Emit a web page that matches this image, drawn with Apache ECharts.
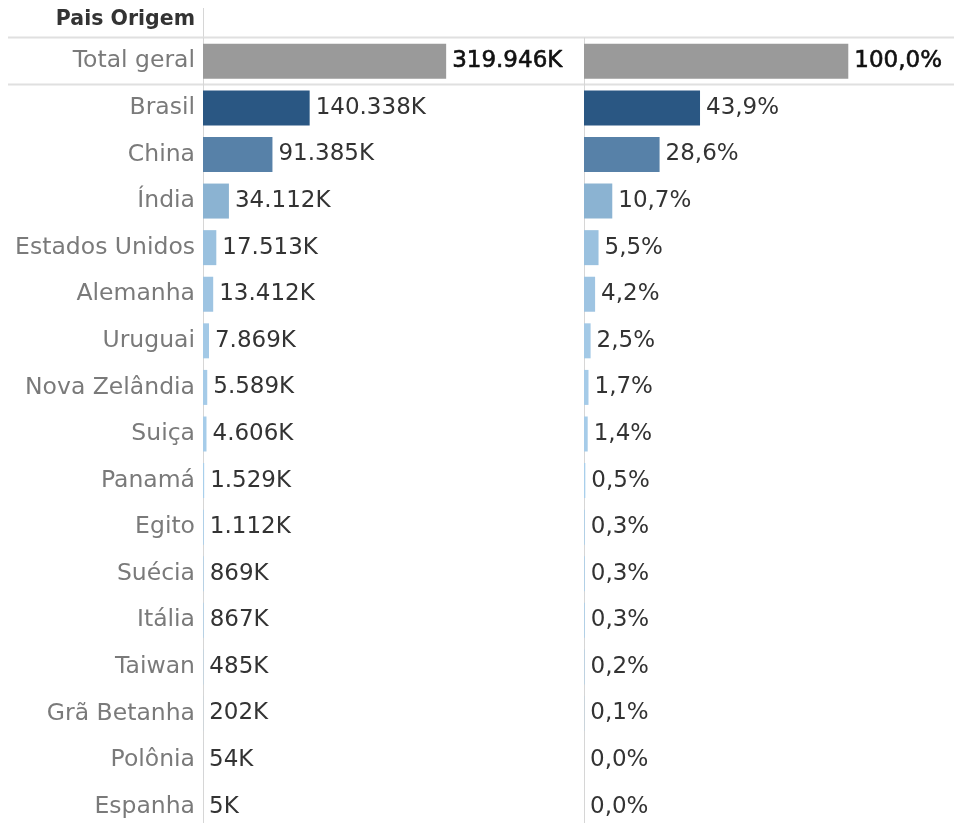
<!DOCTYPE html>
<html>
<head>
<meta charset="utf-8">
<script src="https://cdn.jsdelivr.net/npm/echarts@6/dist/echarts.min.js"></script>
<style>
  html, body { margin: 0; padding: 0; background: #fff; }
  #chart { width: 954px; height: 823px; }
</style>
</head>
<body>
<div id="chart"></div>
<script>
// dados
const paises = ['Total geral', 'Brasil', 'China', 'Índia', 'Estados Unidos', 'Alemanha', 'Uruguai',
  'Nova Zelândia', 'Suiça', 'Panamá', 'Egito', 'Suécia', 'Itália', 'Taiwan', 'Grã Betanha', 'Polônia', 'Espanha']
const valores = [319946, 140338, 91385, 34112, 17513, 13412, 7869, 5589, 4606, 1529, 1112, 869, 867, 485, 202, 54, 5]
const percentuais = [100.0, 43.9, 28.6, 10.7, 5.5, 4.2, 2.5, 1.7, 1.4, 0.5, 0.3, 0.3, 0.3, 0.2, 0.1, 0.0, 0.0]

const fonte = 'DejaVu Sans'
const maxPais = Math.max(...valores.slice(1))
const minPais = Math.min(...valores.slice(1))

// escala de cor continua (clara -> escura), total em cinza
function corBarra (idx) {
  if (idx === 0) return '#9a9a9a'
  const t = (valores[idx] - minPais) / (maxPais - minPais)
  const a = [170, 208, 236]
  const b = [42, 87, 131]
  const c = a.map((v, i) => Math.round(v + (b[i] - v) * t))
  return 'rgb(' + c.join(',') + ')'
}

function fmtK (v) {
  return String(v).replace(/\B(?=(\d{3})+(?!\d))/g, '.') + 'K'
}

function fmtPct (v) {
  return v.toFixed(1).replace('.', ',') + '%'
}

const rotulo = {
  show: true,
  position: 'right',
  distance: 6,
  fontFamily: fonte,
  fontSize: 23,
  color: '#333',
  rich: {
    t: { fontFamily: fonte, fontSize: 23, color: '#111', textBorderColor: '#111', textBorderWidth: 0.6 }
  }
}

const eixoY = {
  type: 'category',
  data: paises,
  inverse: true,
  axisTick: { show: false },
  axisLine: { show: true, lineStyle: { color: '#d6d6d6', width: 1 } },
  splitLine: { show: false }
}

const chart = echarts.init(document.getElementById('chart'))
chart.setOption({
  animation: false,
  grid: [
    { left: 203, top: 38, width: 380, height: 792, outerBoundsMode: 'none', containLabel: false },
    { left: 584, top: 38, width: 370, height: 792, outerBoundsMode: 'none', containLabel: false }
  ],
  xAxis: [
    { gridIndex: 0, type: 'value', min: 0, max: 500000, show: false },
    { gridIndex: 1, type: 'value', min: 0, max: 140, show: false }
  ],
  yAxis: [
    Object.assign({}, eixoY, {
      gridIndex: 0,
      axisLabel: { fontFamily: fonte, fontSize: 23.5, color: '#7a7a7a', margin: 8 }
    }),
    Object.assign({}, eixoY, { gridIndex: 1, axisLabel: { show: false } })
  ],
  series: [
    {
      type: 'bar',
      xAxisIndex: 0,
      yAxisIndex: 0,
      barWidth: 35,
      data: valores,
      itemStyle: { color: p => corBarra(p.dataIndex) },
      label: Object.assign({}, rotulo, {
        formatter: p => p.dataIndex === 0 ? '{t|' + fmtK(p.value) + '}' : fmtK(p.value)
      })
    },
    {
      type: 'bar',
      xAxisIndex: 1,
      yAxisIndex: 1,
      barWidth: 35,
      data: percentuais,
      itemStyle: { color: p => corBarra(p.dataIndex) },
      label: Object.assign({}, rotulo, {
        formatter: p => p.dataIndex === 0 ? '{t|' + fmtPct(p.value) + '}' : fmtPct(p.value)
      })
    }
  ],
  graphic: [
    {
      type: 'text',
      x: 195,
      y: 20,
      style: {
        text: 'Pais Origem',
        font: 'bold 20.5px "DejaVu Sans"',
        fill: '#333',
        align: 'right',
        verticalAlign: 'middle'
      }
    },
    { type: 'line', shape: { x1: 203.5, y1: 8, x2: 203.5, y2: 38 }, style: { stroke: '#d6d6d6', lineWidth: 1 } },
    { type: 'line', shape: { x1: 8, y1: 37.5, x2: 954, y2: 37.5 }, style: { stroke: '#e0e0e0', lineWidth: 2 } },
    { type: 'line', shape: { x1: 8, y1: 84.5, x2: 954, y2: 84.5 }, style: { stroke: '#e0e0e0', lineWidth: 2 } }
  ]
})
</script>
</body>
</html>
